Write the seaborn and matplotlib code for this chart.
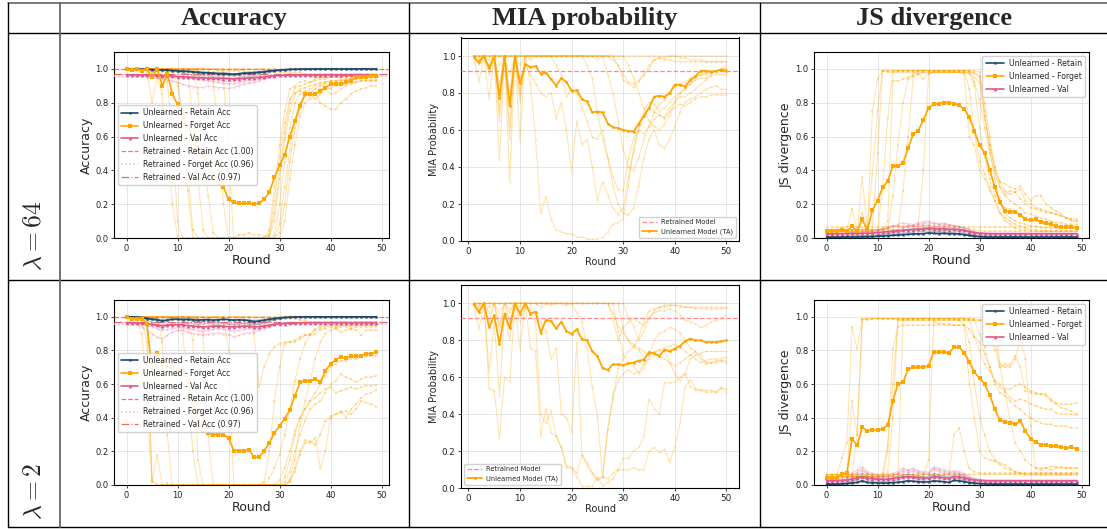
import sys
import numpy as np
import matplotlib
matplotlib.use("Agg")
import matplotlib.pyplot as plt
import seaborn as sns
from matplotlib.lines import Line2D

sns.set_theme(style="ticks")
plt.rcParams['font.family'] = ['DejaVu Sans']
plt.rcParams['mathtext.fontset'] = 'cm'

# ---------------------------------------------------------------- data
ROUNDS = list(range(0, 50))
MIA_ROUNDS = list(range(1, 51))
COL_TITLES = ["Accuracy", "MIA probability", "JS divergence"]
ROW_TITLES = [r"$\lambda = 64$", r"$\lambda = 2$"]
RETRAINED_ACC = {"Retain": 1.00, "Forget": 0.96, "Val": 0.97}
RETRAINED_MIA = 0.92

# ---- lambda = 64, accuracy
acc64_retain = [1.0,0.998,0.998,0.997,0.997,0.995,0.995,0.993,0.993,0.99,
                0.988,0.985,0.985,0.982,0.98,0.978,0.978,0.975,0.972,0.972,
                0.97,0.968,0.972,0.975,0.975,0.978,0.98,0.982,0.988,0.99,
                0.993,0.995,0.997,0.998,0.998,0.999,0.999,1.0,1.0,1.0,
                1.0,1.0,1.0,1.0,1.0,1.0,1.0,1.0,1.0,1.0]
acc64_forget = [1.0,0.995,1.0,0.99,1.0,0.95,1.0,0.90,0.97,0.85,
                0.79,0.72,0.66,0.60,0.54,0.48,0.43,0.37,0.32,0.30,
                0.23,0.21,0.205,0.205,0.205,0.20,0.205,0.23,0.27,0.36,
                0.43,0.49,0.60,0.69,0.78,0.85,0.85,0.85,0.87,0.89,
                0.91,0.91,0.91,0.92,0.93,0.95,0.95,0.955,0.96,0.96]
acc64_val = [0.965,0.965,0.965,0.964,0.964,0.963,0.962,0.96,0.96,0.958,
             0.955,0.953,0.952,0.95,0.948,0.947,0.946,0.945,0.944,0.943,
             0.942,0.94,0.943,0.945,0.946,0.948,0.95,0.953,0.956,0.96,
             0.962,0.963,0.964,0.965,0.965,0.965,0.965,0.965,0.965,0.965,
             0.965,0.965,0.965,0.965,0.965,0.965,0.965,0.965,0.965,0.965]
acc64_retain_runs = [
    [1.0,1.0,0.998,0.997,0.996,0.995,0.993,0.99,0.99,0.985,
     0.98,0.975,0.97,0.965,0.96,0.958,0.96,0.955,0.952,0.95,
     0.948,0.945,0.95,0.955,0.957,0.96,0.965,0.97,0.98,0.985,
     0.99,0.993,0.995,0.997,0.998,0.999,1.0,1.0,1.0,1.0,
     1.0,1.0,1.0,1.0,1.0,1.0,1.0,1.0,1.0,1.0],
    [1.0,0.999,0.999,0.998,0.997,0.997,0.996,0.995,0.994,0.993,
     0.99,0.99,0.988,0.985,0.983,0.98,0.975,0.97,0.968,0.965,
     0.962,0.96,0.963,0.967,0.97,0.972,0.975,0.98,0.985,0.99,
     0.995,0.997,0.998,0.999,1.0,1.0,1.0,1.0,1.0,1.0,
     1.0,1.0,1.0,1.0,1.0,1.0,1.0,1.0,1.0,1.0],
    [1.0,1.0,1.0,0.999,0.999,0.998,0.998,0.997,0.996,0.995,
     0.993,0.99,0.985,0.98,0.975,0.972,0.97,0.975,0.978,0.98,
     0.975,0.97,0.972,0.978,0.98,0.983,0.985,0.988,0.99,0.993,
     0.996,0.998,0.999,1.0,1.0,1.0,1.0,1.0,1.0,1.0,
     1.0,1.0,1.0,1.0,1.0,1.0,1.0,1.0,1.0,1.0],
]
acc64_val_runs = [
    [0.965,0.963,0.96,0.958,0.955,0.95,0.945,0.94,0.935,0.93,
     0.92,0.91,0.90,0.895,0.89,0.89,0.90,0.895,0.89,0.888,
     0.885,0.89,0.90,0.91,0.915,0.92,0.93,0.94,0.95,0.955,
     0.96,0.963,0.965,0.965,0.965,0.965,0.965,0.965,0.965,0.965,
     0.965,0.965,0.965,0.965,0.965,0.965,0.965,0.965,0.965,0.965],
    [0.965,0.965,0.964,0.963,0.962,0.96,0.958,0.957,0.955,0.953,
     0.95,0.948,0.945,0.94,0.938,0.935,0.93,0.925,0.92,0.915,
     0.91,0.912,0.918,0.925,0.93,0.935,0.94,0.948,0.955,0.96,
     0.962,0.964,0.965,0.965,0.965,0.965,0.965,0.965,0.965,0.965,
     0.965,0.965,0.965,0.965,0.965,0.965,0.965,0.965,0.965,0.965],
    [0.96,0.96,0.96,0.96,0.958,0.957,0.955,0.955,0.953,0.952,
     0.95,0.95,0.948,0.946,0.945,0.944,0.942,0.94,0.935,0.93,
     0.925,0.93,0.935,0.94,0.945,0.948,0.95,0.953,0.956,0.958,
     0.96,0.96,0.96,0.96,0.96,0.96,0.96,0.96,0.96,0.96,
     0.96,0.96,0.96,0.96,0.96,0.96,0.96,0.96,0.96,0.96],
]
acc64_forget_runs = [
    [1.0,1.0,0.99,1.0,0.98,0.80,0.95,0.85,0.50,0.20,
     0.01,0.0,0.0,0.0,0.0,0.0,0.0,0.0,0.0,0.0,
     0.0,0.0,0.0,0.0,0.0,0.0,0.0,0.0,0.05,0.30,
     0.55,0.75,0.88,0.90,0.92,0.93,0.92,0.94,0.95,0.95,
     0.95,0.96,0.95,0.96,0.96,0.96,0.96,0.96,0.96,0.96],
    [1.0,1.0,1.0,1.0,1.0,0.97,1.0,0.95,0.92,0.60,
     0.10,0.0,0.0,0.0,0.0,0.0,0.0,0.0,0.0,0.0,
     0.0,0.0,0.0,0.0,0.0,0.0,0.0,0.0,0.0,0.02,
     0.20,0.45,0.65,0.80,0.85,0.87,0.85,0.82,0.85,0.88,
     0.85,0.86,0.88,0.90,0.91,0.92,0.93,0.93,0.93,0.93],
    [1.0,1.0,1.0,1.0,1.0,1.0,1.0,0.99,1.0,1.0,
     1.0,0.60,0.28,0.0,0.0,0.0,0.0,0.0,0.0,0.0,
     0.0,0.0,0.0,0.0,0.0,0.0,0.0,0.0,0.0,0.0,
     0.0,0.10,0.35,0.55,0.72,0.80,0.82,0.85,0.80,0.78,
     0.76,0.76,0.80,0.82,0.85,0.87,0.88,0.89,0.90,0.90],
    [1.0,1.0,1.0,1.0,1.0,1.0,1.0,1.0,1.0,1.0,
     1.0,1.0,1.0,1.0,0.85,0.55,0.25,0.03,0.0,0.0,
     0.0,0.0,0.0,0.0,0.0,0.0,0.0,0.0,0.0,0.0,
     0.08,0.30,0.52,0.70,0.80,0.84,0.86,0.88,0.90,0.91,
     0.92,0.92,0.93,0.93,0.94,0.94,0.95,0.95,0.95,0.95],
    [1.0,1.0,1.0,1.0,1.0,1.0,1.0,1.0,1.0,1.0,
     1.0,1.0,1.0,1.0,1.0,1.0,1.0,0.92,0.60,0.20,
     0.0,0.0,0.0,0.0,0.0,0.0,0.0,0.0,0.0,0.0,
     0.03,0.20,0.45,0.65,0.77,0.85,0.88,0.90,0.91,0.92,
     0.93,0.93,0.94,0.94,0.94,0.95,0.95,0.95,0.95,0.95],
    [1.0,1.0,1.0,1.0,1.0,1.0,1.0,1.0,1.0,1.0,
     1.0,1.0,1.0,1.0,1.0,1.0,1.0,1.0,1.0,0.95,
     0.50,0.0,0.02,0.02,0.03,0.02,0.02,0.01,0.02,0.15,
     0.40,0.62,0.80,0.89,0.90,0.91,0.92,0.93,0.94,0.94,
     0.95,0.95,0.95,0.96,0.96,0.96,0.96,0.96,0.96,0.96],
    [1.0,1.0,1.0,1.0,1.0,1.0,1.0,1.0,1.0,1.0,
     1.0,1.0,1.0,0.70,0.35,0.05,0.0,0.0,0.0,0.0,
     0.0,0.0,0.0,0.0,0.0,0.0,0.0,0.0,0.01,0.10,
     0.35,0.58,0.75,0.85,0.88,0.89,0.90,0.91,0.92,0.92,
     0.93,0.93,0.93,0.94,0.94,0.94,0.94,0.94,0.94,0.94],
    [1.0,1.0,1.0,1.0,1.0,1.0,1.0,1.0,1.0,1.0,
     0.90,0.75,0.40,0.05,0.0,0.0,0.0,0.0,0.0,0.0,
     0.0,0.0,0.0,0.0,0.0,0.0,0.0,0.0,0.02,0.22,
     0.48,0.68,0.82,0.86,0.87,0.85,0.84,0.86,0.88,0.89,
     0.88,0.90,0.91,0.91,0.92,0.92,0.93,0.93,0.93,0.93],
    [1.0,1.0,1.0,1.0,1.0,1.0,1.0,1.0,1.0,1.0,
     1.0,1.0,1.0,1.0,1.0,1.0,1.0,1.0,1.0,1.0,
     1.0,1.0,1.0,1.0,1.0,1.0,1.0,1.0,1.0,1.0,
     0.99,0.99,0.98,0.98,0.98,0.97,0.97,0.97,0.97,0.97,
     0.97,0.97,0.97,0.97,0.97,0.97,0.97,0.97,0.97,0.97],
    [1.0,0.99,1.0,0.99,1.0,0.98,0.99,0.98,0.99,0.99,
     0.99,0.99,0.99,0.99,0.99,0.98,0.98,0.98,0.99,0.99,
     0.99,0.99,0.99,0.99,0.98,0.98,0.98,0.99,0.99,0.99,
     0.98,0.98,0.97,0.96,0.96,0.96,0.96,0.95,0.95,0.95,
     0.95,0.95,0.95,0.96,0.96,0.96,0.96,0.96,0.96,0.95],
]

# ---- lambda = 2, accuracy
acc2_retain = [1.0,1.0,0.998,0.995,0.99,0.985,0.982,0.975,0.98,0.985,
               0.985,0.983,0.985,0.982,0.98,0.982,0.983,0.98,0.982,0.985,
               0.983,0.98,0.982,0.98,0.978,0.972,0.975,0.98,0.985,0.99,
               0.993,0.996,0.998,0.999,1.0,1.0,1.0,1.0,1.0,1.0,
               1.0,1.0,1.0,1.0,1.0,1.0,1.0,1.0,1.0,1.0]
acc2_forget = [1.0,0.99,0.99,0.99,0.96,0.68,0.786,0.72,0.70,0.70,
               0.69,0.68,0.62,0.50,0.38,0.32,0.31,0.30,0.30,0.30,
               0.28,0.205,0.205,0.205,0.21,0.165,0.165,0.205,0.25,0.31,
               0.35,0.395,0.445,0.53,0.61,0.62,0.62,0.63,0.61,0.68,
               0.72,0.745,0.76,0.755,0.765,0.765,0.77,0.78,0.78,0.79]
acc2_val = [0.965,0.965,0.964,0.962,0.958,0.955,0.95,0.948,0.95,0.952,
            0.953,0.952,0.948,0.945,0.943,0.94,0.942,0.944,0.945,0.944,
            0.942,0.94,0.943,0.945,0.944,0.94,0.942,0.946,0.95,0.955,
            0.958,0.96,0.962,0.963,0.964,0.965,0.965,0.965,0.965,0.965,
            0.965,0.965,0.965,0.965,0.965,0.965,0.965,0.965,0.965,0.965]
acc2_retain_runs = [
    [1.0,1.0,0.995,0.99,0.98,0.97,0.95,0.93,0.95,0.96,
     0.965,0.96,0.965,0.96,0.955,0.958,0.96,0.955,0.958,0.96,
     0.955,0.95,0.955,0.958,0.955,0.95,0.955,0.96,0.97,0.98,
     0.985,0.99,0.995,0.998,1.0,1.0,1.0,1.0,1.0,1.0,
     1.0,1.0,1.0,1.0,1.0,1.0,1.0,1.0,1.0,1.0],
    [1.0,1.0,1.0,0.998,0.995,0.99,0.985,0.98,0.982,0.985,
     0.985,0.985,0.98,0.975,0.97,0.972,0.975,0.97,0.968,0.965,
     0.96,0.955,0.96,0.962,0.96,0.955,0.96,0.968,0.975,0.985,
     0.99,0.995,0.998,1.0,1.0,1.0,1.0,1.0,1.0,1.0,
     1.0,1.0,1.0,1.0,1.0,1.0,1.0,1.0,1.0,1.0],
    [1.0,1.0,0.998,0.996,0.993,0.99,0.988,0.985,0.988,0.99,
     0.99,0.99,0.988,0.988,0.985,0.985,0.988,0.985,0.985,0.988,
     0.985,0.983,0.985,0.985,0.983,0.98,0.982,0.986,0.99,0.993,
     0.996,0.998,1.0,1.0,1.0,1.0,1.0,1.0,1.0,1.0,
     1.0,1.0,1.0,1.0,1.0,1.0,1.0,1.0,1.0,1.0],
]
acc2_val_runs = [
    [0.965,0.963,0.955,0.94,0.92,0.90,0.88,0.87,0.89,0.91,
     0.92,0.92,0.91,0.90,0.895,0.89,0.895,0.90,0.905,0.90,
     0.895,0.88,0.89,0.90,0.905,0.91,0.92,0.93,0.94,0.95,
     0.955,0.96,0.963,0.965,0.965,0.965,0.965,0.965,0.965,0.965,
     0.965,0.965,0.965,0.965,0.965,0.965,0.965,0.965,0.965,0.965],
    [0.965,0.965,0.962,0.958,0.95,0.94,0.93,0.92,0.925,0.93,
     0.935,0.935,0.93,0.925,0.92,0.915,0.92,0.925,0.93,0.925,
     0.92,0.915,0.92,0.925,0.93,0.925,0.93,0.94,0.95,0.955,
     0.96,0.962,0.964,0.965,0.965,0.965,0.965,0.965,0.965,0.965,
     0.965,0.965,0.965,0.965,0.965,0.965,0.965,0.965,0.965,0.965],
    [0.965,0.965,0.965,0.963,0.96,0.955,0.95,0.945,0.948,0.95,
     0.952,0.95,0.948,0.945,0.942,0.94,0.942,0.945,0.946,0.944,
     0.94,0.938,0.94,0.943,0.944,0.94,0.943,0.948,0.952,0.956,
     0.96,0.962,0.964,0.965,0.965,0.965,0.965,0.965,0.965,0.965,
     0.965,0.965,0.965,0.965,0.965,0.965,0.965,0.965,0.965,0.965],
]
acc2_forget_runs = [
    [1.0,1.0,0.98,0.90,0.50,0.02,0.18,0.0,0.01,0.0,
     0.0,0.0,0.0,0.0,0.0,0.0,0.0,0.0,0.0,0.0,
     0.0,0.0,0.0,0.0,0.0,0.0,0.0,0.0,0.04,0.10,
     0.18,0.30,0.45,0.62,0.75,0.84,0.89,0.93,0.94,0.95,
     0.95,0.94,0.95,0.95,0.94,0.95,0.95,0.95,0.95,0.95],
    [1.0,1.0,1.0,1.0,1.0,0.02,0.0,0.0,0.0,0.0,
     0.0,0.0,0.0,0.0,0.0,0.0,0.0,0.0,0.0,0.0,
     0.0,0.0,0.0,0.0,0.0,0.0,0.0,0.0,0.0,0.0,
     0.0,0.0,0.03,0.15,0.35,0.50,0.62,0.75,0.85,0.90,
     0.92,0.93,0.91,0.92,0.93,0.92,0.89,0.92,0.92,0.92],
    [1.0,1.0,1.0,1.0,1.0,1.0,0.99,1.0,1.0,1.0,
     1.0,1.0,0.98,0.86,0.15,0.0,0.0,0.0,0.0,0.0,
     0.0,0.0,0.0,0.0,0.0,0.0,0.0,0.0,0.0,0.0,
     0.0,0.05,0.15,0.30,0.40,0.45,0.50,0.55,0.60,0.65,
     0.70,0.72,0.74,0.74,0.75,0.75,0.76,0.76,0.77,0.77],
    [1.0,1.0,1.0,1.0,1.0,1.0,1.0,1.0,1.0,1.0,
     1.0,1.0,1.0,0.99,0.98,0.90,0.30,0.0,0.0,0.0,
     0.0,0.0,0.0,0.0,0.0,0.0,0.0,0.0,0.0,0.0,
     0.0,0.02,0.08,0.20,0.30,0.38,0.45,0.48,0.50,0.55,
     0.60,0.62,0.66,0.64,0.63,0.61,0.63,0.64,0.64,0.65],
    [1.0,1.0,1.0,1.0,1.0,1.0,1.0,1.0,1.0,1.0,
     1.0,1.0,1.0,1.0,0.99,1.0,0.98,1.0,0.99,1.0,
     0.80,0.0,0.0,0.0,0.0,0.0,0.0,0.0,0.0,0.0,
     0.0,0.0,0.02,0.10,0.20,0.27,0.25,0.28,0.10,0.20,
     0.41,0.42,0.43,0.44,0.42,0.45,0.50,0.49,0.48,0.465],
    [1.0,1.0,1.0,1.0,1.0,1.0,1.0,1.0,1.0,1.0,
     1.0,1.0,1.0,1.0,1.0,1.0,1.0,1.0,1.0,1.0,
     1.0,1.0,1.0,1.0,1.0,0.90,0.58,0.70,0.78,0.82,
     0.84,0.85,0.85,0.86,0.88,0.89,0.90,0.92,0.93,0.94,
     0.95,0.94,0.95,0.95,0.95,0.95,0.95,0.95,0.95,0.95],
    [1.0,1.0,1.0,1.0,1.0,1.0,1.0,0.85,0.30,0.0,
     0.0,0.0,0.0,0.0,0.0,0.0,0.0,0.0,0.0,0.0,
     0.0,0.0,0.0,0.0,0.0,0.0,0.0,0.0,0.0,0.0,
     0.03,0.10,0.20,0.32,0.40,0.45,0.50,0.52,0.55,0.57,
     0.58,0.55,0.56,0.57,0.58,0.57,0.58,0.59,0.59,0.595],
    [1.0,1.0,1.0,1.0,1.0,1.0,1.0,1.0,1.0,1.0,
     1.0,0.90,0.60,0.20,0.0,0.0,0.0,0.0,0.0,0.0,
     0.0,0.0,0.0,0.0,0.0,0.0,0.0,0.0,0.0,0.0,
     0.0,0.0,0.02,0.08,0.18,0.25,0.26,0.24,0.30,0.38,
     0.40,0.42,0.44,0.40,0.45,0.48,0.52,0.54,0.55,0.565],
    [1.0,1.0,1.0,1.0,1.0,1.0,1.0,1.0,1.0,1.0,
     1.0,1.0,1.0,1.0,1.0,1.0,1.0,1.0,1.0,1.0,
     1.0,1.0,1.0,1.0,1.0,1.0,1.0,1.0,1.0,1.0,
     1.0,1.0,0.99,0.99,0.98,0.98,0.97,0.97,0.97,0.97,
     0.97,0.97,0.97,0.97,0.97,0.97,0.97,0.97,0.97,0.97],
    [1.0,1.0,1.0,0.97,0.85,0.03,0.0,0.0,0.0,0.0,
     0.0,0.0,0.0,0.0,0.0,0.0,0.0,0.0,0.0,0.0,
     0.0,0.0,0.0,0.0,0.0,0.0,0.0,0.02,0.20,0.50,
     0.70,0.84,0.85,0.85,0.87,0.89,0.89,0.90,0.92,0.93,
     0.94,0.93,0.94,0.94,0.93,0.94,0.94,0.94,0.94,0.94],
]

# ---- lambda = 64, MIA probability
mia64_mean = [0.995,0.965,1.0,0.935,1.0,0.775,1.0,0.73,1.0,0.855,
              0.955,0.94,0.945,0.905,0.91,0.875,0.84,0.88,0.86,0.81,
              0.815,0.765,0.755,0.695,0.70,0.695,0.635,0.615,0.61,0.60,
              0.595,0.59,0.635,0.675,0.72,0.78,0.785,0.78,0.80,0.845,
              0.845,0.835,0.87,0.89,0.92,0.92,0.915,0.92,0.925,0.92]
mia64_runs = [
    [1.0,0.99,1.0,1.0,1.0,1.0,1.0,1.0,1.0,1.0,
     1.0,1.0,1.0,1.0,1.0,1.0,1.0,1.0,1.0,1.0,
     1.0,1.0,1.0,1.0,1.0,1.0,1.0,1.0,1.0,1.0,
     1.0,1.0,1.0,1.0,1.0,1.0,1.0,1.0,1.0,1.0,
     1.0,1.0,1.0,1.0,1.0,1.0,1.0,1.0,1.0,1.0],
    [1.0,0.86,1.0,0.77,1.0,0.44,1.0,0.32,1.0,0.54,
     1.0,1.0,1.0,1.0,1.0,1.0,1.0,1.0,1.0,1.0,
     1.0,1.0,1.0,1.0,1.0,1.0,1.0,0.98,0.95,0.90,
     0.86,0.85,0.87,0.90,0.95,0.98,0.99,0.99,1.0,1.0,
     0.99,0.99,0.98,0.98,0.98,0.97,0.97,0.97,0.97,0.97],
    [1.0,0.98,1.0,0.95,1.0,0.65,1.0,0.55,1.0,0.75,
     1.0,0.85,0.55,0.15,0.24,0.12,0.06,0.05,0.04,0.04,
     0.02,0.02,0.01,0.01,0.01,0.02,0.05,0.09,0.10,0.12,
     0.30,0.50,0.62,0.70,0.75,0.74,0.70,0.72,0.75,0.78,
     0.80,0.82,0.85,0.87,0.88,0.88,0.89,0.90,0.90,0.90],
    [1.0,0.97,1.0,0.92,1.0,0.85,1.0,0.80,1.0,0.80,
     0.95,0.90,0.85,0.80,0.78,0.80,0.66,0.75,0.60,0.37,
     0.65,0.52,0.55,0.40,0.22,0.32,0.25,0.18,0.14,0.18,
     0.35,0.48,0.60,0.68,0.72,0.70,0.68,0.67,0.72,0.75,
     0.78,0.78,0.80,0.82,0.85,0.87,0.90,0.92,0.93,0.95],
    [1.0,1.0,1.0,0.98,1.0,0.95,1.0,0.90,1.0,0.95,
     1.0,1.0,1.0,1.0,1.0,1.0,1.0,1.0,1.0,1.0,
     1.0,1.0,0.95,0.88,0.70,0.55,0.45,0.30,0.20,0.15,
     0.14,0.18,0.30,0.45,0.55,0.60,0.52,0.50,0.55,0.62,
     0.70,0.75,0.77,0.78,0.80,0.82,0.83,0.84,0.82,0.82],
    [1.0,1.0,1.0,1.0,1.0,1.0,1.0,1.0,1.0,1.0,
     1.0,1.0,1.0,1.0,1.0,1.0,1.0,1.0,1.0,1.0,
     1.0,1.0,1.0,1.0,0.98,1.0,0.90,0.80,0.65,0.50,
     0.40,0.38,0.45,0.55,0.62,0.66,0.68,0.66,0.70,0.72,
     0.74,0.73,0.75,0.77,0.78,0.78,0.79,0.79,0.79,0.79],
    [1.0,1.0,1.0,1.0,1.0,1.0,1.0,1.0,1.0,1.0,
     1.0,1.0,1.0,1.0,1.0,1.0,1.0,1.0,1.0,1.0,
     1.0,1.0,1.0,1.0,1.0,1.0,1.0,1.0,0.95,0.87,
     0.85,0.83,0.86,0.90,0.93,0.98,0.99,0.98,0.98,0.97,
     0.97,0.97,0.97,0.97,0.97,0.97,0.97,0.97,0.97,0.97],
    [1.0,0.95,1.0,0.90,1.0,0.70,1.0,0.62,1.0,0.78,
     1.0,0.98,1.0,1.0,1.0,1.0,0.95,0.90,0.78,0.82,
     0.80,0.72,0.65,0.56,0.55,0.60,0.45,0.35,0.28,0.27,
     0.45,0.55,0.60,0.58,0.62,0.70,0.74,0.76,0.80,0.83,
     0.85,0.86,0.88,0.89,0.90,0.91,0.92,0.92,0.93,0.93],
    [1.0,1.0,1.0,1.0,1.0,1.0,1.0,1.0,1.0,1.0,
     1.0,1.0,1.0,1.0,1.0,1.0,1.0,1.0,1.0,1.0,
     1.0,1.0,1.0,1.0,1.0,1.0,1.0,1.0,1.0,1.0,
     0.95,0.88,0.80,0.72,0.65,0.62,0.60,0.63,0.68,0.75,
     0.80,0.83,0.85,0.88,0.90,0.90,0.91,0.92,0.93,0.93],
]

# ---- lambda = 2, MIA probability
mia2_mean = [0.995,0.955,1.0,0.87,0.935,0.78,0.945,0.865,1.0,0.945,
             1.0,0.945,0.955,0.84,0.91,0.905,0.865,0.90,0.85,0.835,
             0.86,0.805,0.80,0.74,0.715,0.65,0.64,0.67,0.67,0.665,
             0.675,0.68,0.69,0.695,0.735,0.73,0.715,0.75,0.74,0.755,
             0.77,0.795,0.81,0.80,0.80,0.79,0.79,0.79,0.795,0.80]
mia2_runs = [
    [1.0,0.99,1.0,1.0,1.0,1.0,1.0,1.0,1.0,1.0,
     1.0,1.0,1.0,1.0,1.0,1.0,1.0,1.0,1.0,1.0,
     1.0,1.0,1.0,1.0,1.0,1.0,1.0,1.0,1.0,1.0,
     1.0,1.0,1.0,1.0,1.0,1.0,1.0,1.0,1.0,1.0,
     1.0,1.0,1.0,1.0,1.0,1.0,1.0,1.0,1.0,1.0],
    [1.0,0.86,1.0,0.54,0.525,0.27,0.60,0.575,1.0,0.75,
     1.0,0.76,0.74,0.28,0.43,0.30,0.28,0.22,0.12,0.11,
     0.06,0.01,0.01,0.01,0.06,0.01,0.03,0.05,0.10,0.16,
     0.16,0.20,0.22,0.28,0.48,0.43,0.40,0.57,0.57,0.575,
     0.60,0.62,0.55,0.53,0.53,0.52,0.52,0.52,0.545,0.515],
    [1.0,0.95,1.0,0.63,0.90,0.50,0.95,0.80,1.0,0.90,
     0.98,0.95,0.90,0.40,0.35,0.42,0.28,0.22,0.11,0.11,
     0.08,0.18,0.12,0.08,0.05,0.06,0.05,0.08,0.10,0.10,
     0.10,0.11,0.10,0.10,0.20,0.22,0.19,0.21,0.14,0.22,
     0.35,0.55,0.585,0.54,0.53,0.53,0.53,0.52,0.54,0.535],
    [1.0,0.98,1.0,0.95,1.0,0.85,1.0,0.90,1.0,0.98,
     1.0,0.97,0.95,0.90,0.85,0.70,0.76,0.40,0.38,0.30,
     0.79,0.18,0.14,0.08,0.04,0.06,0.32,0.50,0.58,0.62,
     0.64,0.62,0.63,0.67,0.70,0.72,0.72,0.70,0.68,0.66,
     0.68,0.70,0.72,0.74,0.72,0.68,0.68,0.68,0.69,0.675],
    [1.0,0.97,1.0,0.90,1.0,0.88,1.0,0.95,1.0,1.0,
     1.0,1.0,1.0,0.98,1.0,0.99,1.0,1.0,0.99,1.0,
     0.95,0.90,0.75,0.55,0.39,0.06,0.32,0.48,0.65,0.70,
     0.74,0.77,0.75,0.70,0.72,0.74,0.75,0.74,0.68,0.62,
     0.58,0.62,0.70,0.72,0.73,0.74,0.74,0.74,0.74,0.74],
    [1.0,1.0,1.0,0.98,1.0,0.95,1.0,0.97,1.0,1.0,
     1.0,1.0,1.0,1.0,1.0,1.0,1.0,1.0,1.0,1.0,
     1.0,1.0,1.0,1.0,1.0,1.0,1.0,0.95,0.88,0.84,
     0.80,0.78,0.76,0.74,0.72,0.73,0.75,0.76,0.77,0.78,
     0.76,0.74,0.72,0.70,0.68,0.69,0.70,0.70,0.70,0.71],
    [1.0,1.0,1.0,1.0,1.0,1.0,1.0,1.0,1.0,1.0,
     1.0,1.0,1.0,1.0,1.0,1.0,1.0,1.0,1.0,1.0,
     1.0,1.0,1.0,1.0,1.0,1.0,1.0,1.0,0.85,0.72,
     0.68,0.66,0.62,0.65,0.72,0.80,0.84,0.85,0.87,0.86,
     0.84,0.80,0.76,0.74,0.70,0.67,0.68,0.69,0.69,0.69],
    [1.0,1.0,1.0,1.0,1.0,1.0,1.0,1.0,1.0,1.0,
     1.0,1.0,1.0,1.0,1.0,1.0,1.0,1.0,1.0,1.0,
     1.0,1.0,1.0,1.0,1.0,1.0,1.0,0.92,0.80,0.87,
     0.90,0.92,0.90,0.88,0.92,0.95,0.96,0.96,0.97,0.96,
     0.94,0.91,0.90,0.89,0.87,0.88,0.90,0.91,0.92,0.935],
    [1.0,1.0,1.0,1.0,1.0,1.0,1.0,1.0,1.0,1.0,
     1.0,1.0,1.0,1.0,1.0,1.0,1.0,1.0,1.0,1.0,
     1.0,1.0,1.0,1.0,1.0,1.0,1.0,1.0,1.0,0.86,
     0.80,0.76,0.82,0.90,0.96,0.97,0.98,0.98,0.99,0.99,
     0.99,0.98,0.98,0.97,0.97,0.97,0.97,0.97,0.97,0.975],
    [1.0,1.0,1.0,1.0,1.0,1.0,1.0,1.0,1.0,1.0,
     1.0,1.0,1.0,1.0,1.0,1.0,1.0,1.0,1.0,1.0,
     1.0,1.0,1.0,1.0,1.0,1.0,1.0,1.0,1.0,1.0,
     0.92,0.88,0.80,0.85,0.92,0.96,0.98,0.99,0.99,0.99,
     0.98,0.98,0.98,0.98,0.98,0.98,0.98,0.98,0.98,0.98],
]

# ---- lambda = 64, JS divergence
js64_retain = [0.005,0.005,0.005,0.005,0.006,0.006,0.006,0.007,0.007,0.008,
               0.01,0.012,0.014,0.016,0.018,0.02,0.022,0.024,0.025,0.026,
               0.03,0.028,0.026,0.028,0.025,0.026,0.024,0.02,0.015,0.01,
               0.008,0.006,0.005,0.005,0.005,0.005,0.005,0.005,0.005,0.005,
               0.005,0.005,0.005,0.005,0.005,0.005,0.005,0.005,0.005,0.005]
js64_forget = [0.04,0.04,0.04,0.045,0.04,0.07,0.04,0.11,0.045,0.165,
               0.22,0.30,0.335,0.425,0.425,0.445,0.53,0.615,0.635,0.70,
               0.77,0.79,0.795,0.80,0.80,0.795,0.785,0.76,0.715,0.63,
               0.55,0.50,0.40,0.30,0.21,0.16,0.155,0.155,0.135,0.11,
               0.105,0.11,0.095,0.09,0.08,0.07,0.065,0.065,0.065,0.06]
js64_val = [0.025,0.025,0.025,0.026,0.026,0.027,0.027,0.028,0.028,0.03,
            0.032,0.035,0.038,0.04,0.043,0.045,0.048,0.05,0.052,0.053,
            0.057,0.055,0.052,0.055,0.05,0.052,0.05,0.045,0.038,0.032,
            0.028,0.026,0.025,0.025,0.025,0.025,0.025,0.025,0.025,0.025,
            0.025,0.025,0.025,0.025,0.025,0.025,0.025,0.025,0.025,0.025]
js64_retain_runs = [
    [0.01,0.01,0.01,0.01,0.012,0.012,0.013,0.014,0.015,0.016,
     0.02,0.025,0.03,0.035,0.04,0.045,0.05,0.055,0.055,0.06,
     0.065,0.06,0.055,0.06,0.055,0.05,0.048,0.04,0.03,0.02,
     0.015,0.012,0.01,0.01,0.01,0.01,0.01,0.01,0.01,0.01,
     0.01,0.01,0.01,0.01,0.01,0.01,0.01,0.01,0.01,0.01],
    [0.003,0.003,0.003,0.004,0.004,0.005,0.005,0.006,0.007,0.008,
     0.01,0.012,0.015,0.02,0.025,0.03,0.032,0.035,0.038,0.04,
     0.04,0.038,0.035,0.036,0.033,0.03,0.028,0.022,0.015,0.01,
     0.006,0.004,0.003,0.003,0.003,0.003,0.003,0.003,0.003,0.003,
     0.003,0.003,0.003,0.003,0.003,0.003,0.003,0.003,0.003,0.003],
    [0.008,0.008,0.008,0.008,0.009,0.01,0.01,0.011,0.012,0.014,
     0.016,0.02,0.025,0.03,0.035,0.045,0.05,0.045,0.05,0.048,
     0.05,0.045,0.04,0.045,0.04,0.042,0.038,0.03,0.022,0.015,
     0.01,0.008,0.008,0.008,0.008,0.008,0.008,0.008,0.008,0.008,
     0.008,0.008,0.008,0.008,0.008,0.008,0.008,0.008,0.008,0.008],
]
js64_val_runs = [
    [0.03,0.03,0.03,0.03,0.032,0.033,0.035,0.036,0.038,0.04,
     0.045,0.05,0.06,0.07,0.08,0.09,0.085,0.08,0.09,0.095,
     0.10,0.09,0.085,0.09,0.08,0.075,0.07,0.06,0.05,0.04,
     0.035,0.032,0.03,0.03,0.03,0.03,0.03,0.03,0.03,0.03,
     0.03,0.03,0.03,0.03,0.03,0.03,0.03,0.03,0.03,0.03],
    [0.02,0.02,0.02,0.02,0.021,0.022,0.023,0.024,0.025,0.027,
     0.03,0.035,0.04,0.045,0.05,0.06,0.065,0.07,0.068,0.072,
     0.075,0.07,0.065,0.07,0.065,0.06,0.055,0.045,0.035,0.028,
     0.024,0.022,0.02,0.02,0.02,0.02,0.02,0.02,0.02,0.02,
     0.02,0.02,0.02,0.02,0.02,0.02,0.02,0.02,0.02,0.02],
    [0.025,0.025,0.025,0.026,0.027,0.028,0.03,0.032,0.035,0.04,
     0.045,0.055,0.065,0.075,0.07,0.065,0.07,0.075,0.08,0.085,
     0.09,0.085,0.08,0.082,0.078,0.072,0.065,0.055,0.045,0.035,
     0.03,0.027,0.025,0.025,0.025,0.025,0.025,0.025,0.025,0.025,
     0.025,0.025,0.025,0.025,0.025,0.025,0.025,0.025,0.025,0.025],
]
js64_forget_runs = [
    [0.065,0.065,0.065,0.065,0.065,0.07,0.065,0.065,0.065,0.065,
     0.065,0.065,0.065,0.065,0.065,0.065,0.065,0.065,0.065,0.065,
     0.065,0.065,0.065,0.065,0.065,0.065,0.065,0.065,0.065,0.065,
     0.065,0.065,0.065,0.065,0.065,0.065,0.065,0.065,0.065,0.065,
     0.065,0.065,0.065,0.065,0.065,0.065,0.065,0.065,0.065,0.065],
    [0.05,0.05,0.05,0.06,0.05,0.17,0.04,0.36,0.05,0.75,
     0.94,0.99,0.99,0.99,0.99,0.99,0.99,0.99,0.99,0.99,
     0.99,0.99,0.99,0.99,0.99,0.99,0.99,0.99,0.99,0.97,
     0.96,0.72,0.55,0.40,0.33,0.32,0.30,0.29,0.31,0.26,
     0.22,0.25,0.25,0.20,0.18,0.16,0.14,0.12,0.11,0.115],
    [0.04,0.04,0.04,0.04,0.04,0.04,0.03,0.15,0.06,0.38,
     0.75,0.99,0.98,0.98,0.99,0.99,0.99,0.99,0.99,0.99,
     0.99,0.99,0.99,0.99,0.99,0.99,0.99,0.99,0.99,0.90,
     0.65,0.48,0.35,0.25,0.20,0.18,0.17,0.15,0.14,0.12,
     0.10,0.10,0.09,0.08,0.08,0.07,0.07,0.06,0.06,0.06],
    [0.04,0.04,0.04,0.04,0.04,0.04,0.04,0.04,0.04,0.04,
     0.04,0.30,0.71,0.98,0.98,0.98,0.98,0.98,0.98,0.98,
     0.98,0.98,0.98,0.98,0.98,0.98,0.98,0.97,0.60,0.55,
     0.40,0.35,0.28,0.22,0.15,0.12,0.10,0.08,0.07,0.06,
     0.05,0.05,0.04,0.04,0.04,0.04,0.04,0.04,0.04,0.04],
    [0.05,0.05,0.05,0.05,0.05,0.05,0.05,0.05,0.05,0.05,
     0.05,0.05,0.10,0.93,0.93,0.94,0.95,0.96,0.97,0.94,
     0.97,0.98,0.98,0.98,0.98,0.98,0.98,0.98,0.98,0.95,
     0.92,0.70,0.55,0.42,0.33,0.28,0.26,0.27,0.23,0.20,
     0.18,0.17,0.16,0.15,0.15,0.14,0.13,0.12,0.11,0.10],
    [0.04,0.04,0.04,0.04,0.04,0.04,0.04,0.04,0.04,0.04,
     0.04,0.05,0.06,0.05,0.04,0.28,0.60,0.95,0.97,0.98,
     0.98,0.98,0.98,0.98,0.98,0.98,0.98,0.98,0.98,0.98,
     0.95,0.80,0.60,0.42,0.30,0.25,0.22,0.20,0.18,0.15,
     0.14,0.13,0.12,0.11,0.10,0.09,0.09,0.08,0.08,0.08],
    [0.05,0.05,0.05,0.05,0.05,0.05,0.05,0.05,0.05,0.05,
     0.05,0.05,0.05,0.05,0.05,0.05,0.05,0.05,0.08,0.40,
     0.97,0.98,0.98,0.98,0.98,0.98,0.98,0.98,0.97,0.92,
     0.82,0.65,0.50,0.38,0.30,0.26,0.28,0.27,0.29,0.22,
     0.20,0.18,0.17,0.16,0.15,0.14,0.13,0.12,0.10,0.10],
    [0.04,0.04,0.04,0.04,0.04,0.04,0.04,0.04,0.045,0.05,
     0.05,0.055,0.06,0.065,0.07,0.07,0.075,0.07,0.07,0.075,
     0.075,0.07,0.07,0.072,0.07,0.068,0.065,0.06,0.055,0.05,
     0.045,0.04,0.04,0.04,0.04,0.04,0.04,0.04,0.04,0.04,
     0.04,0.04,0.04,0.04,0.04,0.04,0.04,0.04,0.04,0.04],
    [0.05,0.05,0.05,0.05,0.05,0.05,0.05,0.05,0.05,0.05,
     0.50,0.99,0.99,0.99,0.99,0.99,0.99,0.99,0.99,0.99,
     0.99,0.99,0.99,0.99,0.99,0.99,0.99,0.99,0.88,0.62,
     0.45,0.38,0.30,0.22,0.15,0.10,0.08,0.06,0.05,0.05,
     0.04,0.04,0.04,0.04,0.04,0.04,0.04,0.04,0.04,0.04],
    [0.05,0.05,0.05,0.05,0.05,0.05,0.05,0.05,0.05,0.05,
     0.05,0.05,0.05,0.25,0.55,0.80,0.94,0.97,0.99,0.99,
     0.99,0.99,0.99,0.99,0.99,0.99,0.99,0.99,0.99,0.99,
     0.98,0.75,0.52,0.35,0.22,0.15,0.12,0.10,0.09,0.08,
     0.07,0.07,0.06,0.06,0.06,0.06,0.06,0.06,0.06,0.06],
]

# ---- lambda = 2, JS divergence
js2_retain = [0.005,0.005,0.005,0.006,0.008,0.012,0.015,0.025,0.015,0.014,
              0.012,0.012,0.012,0.014,0.016,0.02,0.025,0.022,0.02,0.018,
              0.018,0.025,0.022,0.02,0.015,0.028,0.025,0.02,0.014,0.01,
              0.008,0.006,0.005,0.005,0.005,0.005,0.005,0.005,0.005,0.005,
              0.005,0.005,0.005,0.005,0.005,0.005,0.005,0.005,0.005,0.005]
js2_forget = [0.04,0.04,0.04,0.065,0.07,0.275,0.235,0.345,0.32,0.33,
              0.325,0.335,0.355,0.50,0.60,0.61,0.69,0.70,0.70,0.70,
              0.71,0.79,0.79,0.79,0.785,0.82,0.82,0.785,0.73,0.67,
              0.635,0.60,0.535,0.45,0.385,0.375,0.37,0.36,0.38,0.32,
              0.275,0.255,0.24,0.24,0.23,0.23,0.225,0.22,0.225,0.215]
js2_val = [0.025,0.025,0.025,0.027,0.03,0.035,0.04,0.05,0.04,0.038,
           0.035,0.034,0.035,0.038,0.042,0.048,0.05,0.046,0.044,0.042,
           0.04,0.05,0.047,0.044,0.04,0.05,0.048,0.042,0.035,0.03,
           0.028,0.026,0.025,0.025,0.025,0.025,0.025,0.025,0.025,0.025,
           0.025,0.025,0.025,0.025,0.025,0.025,0.025,0.025,0.025,0.025]
js2_retain_runs = [
    [0.01,0.01,0.01,0.015,0.02,0.04,0.05,0.07,0.05,0.045,
     0.04,0.035,0.035,0.04,0.05,0.06,0.065,0.06,0.055,0.05,
     0.05,0.07,0.06,0.055,0.05,0.06,0.06,0.05,0.035,0.025,
     0.02,0.015,0.012,0.01,0.01,0.01,0.01,0.01,0.01,0.01,
     0.01,0.01,0.01,0.01,0.01,0.01,0.01,0.01,0.01,0.01],
    [0.003,0.003,0.004,0.006,0.01,0.02,0.03,0.045,0.03,0.025,
     0.02,0.02,0.022,0.025,0.03,0.04,0.045,0.04,0.035,0.03,
     0.03,0.045,0.04,0.035,0.03,0.04,0.038,0.03,0.02,0.012,
     0.008,0.005,0.004,0.003,0.003,0.003,0.003,0.003,0.003,0.003,
     0.003,0.003,0.003,0.003,0.003,0.003,0.003,0.003,0.003,0.003],
    [0.008,0.008,0.008,0.01,0.014,0.025,0.035,0.055,0.04,0.035,
     0.03,0.03,0.03,0.035,0.04,0.05,0.055,0.05,0.045,0.04,
     0.04,0.06,0.05,0.045,0.04,0.05,0.048,0.04,0.028,0.018,
     0.012,0.01,0.008,0.008,0.008,0.008,0.008,0.008,0.008,0.008,
     0.008,0.008,0.008,0.008,0.008,0.008,0.008,0.008,0.008,0.008],
]
js2_val_runs = [
    [0.03,0.03,0.03,0.04,0.05,0.07,0.09,0.11,0.08,0.07,
     0.06,0.06,0.06,0.07,0.08,0.10,0.09,0.10,0.085,0.08,
     0.075,0.11,0.10,0.09,0.08,0.085,0.08,0.07,0.05,0.04,
     0.035,0.03,0.03,0.03,0.03,0.03,0.03,0.03,0.03,0.03,
     0.03,0.03,0.03,0.03,0.03,0.03,0.03,0.03,0.03,0.03],
    [0.02,0.02,0.02,0.028,0.035,0.05,0.065,0.085,0.065,0.055,
     0.05,0.048,0.05,0.055,0.065,0.08,0.075,0.08,0.07,0.065,
     0.06,0.09,0.08,0.07,0.065,0.07,0.065,0.055,0.04,0.03,
     0.025,0.022,0.02,0.02,0.02,0.02,0.02,0.02,0.02,0.02,
     0.02,0.02,0.02,0.02,0.02,0.02,0.02,0.02,0.02,0.02],
    [0.025,0.025,0.026,0.032,0.04,0.06,0.075,0.095,0.07,0.06,
     0.055,0.052,0.055,0.06,0.07,0.09,0.085,0.09,0.078,0.072,
     0.068,0.1,0.09,0.08,0.072,0.078,0.072,0.06,0.045,0.035,
     0.03,0.027,0.025,0.025,0.025,0.025,0.025,0.025,0.025,0.025,
     0.025,0.025,0.025,0.025,0.025,0.025,0.025,0.025,0.025,0.025],
]
js2_forget_runs = [
    [0.06,0.06,0.06,0.16,0.25,0.94,0.81,0.99,0.98,0.99,
     0.99,0.99,0.99,0.99,0.99,0.99,0.99,0.99,0.99,0.99,
     0.99,0.99,0.99,0.99,0.99,0.99,0.99,0.99,0.99,0.99,
     0.98,0.98,0.98,0.96,0.72,0.70,0.72,0.77,0.70,0.56,
     0.55,0.54,0.54,0.53,0.50,0.49,0.48,0.48,0.48,0.49],
    [0.06,0.06,0.06,0.06,0.06,0.50,0.30,0.98,0.99,0.99,
     0.99,0.99,0.99,0.99,0.99,0.99,0.99,0.99,0.99,0.99,
     0.99,0.99,0.99,0.99,0.99,0.99,0.99,0.99,0.98,0.98,
     0.98,0.97,0.95,0.80,0.70,0.72,0.70,0.75,0.87,0.75,
     0.35,0.10,0.09,0.10,0.09,0.10,0.11,0.10,0.10,0.10],
    [0.05,0.05,0.05,0.05,0.05,0.05,0.05,0.05,0.05,0.05,
     0.05,0.05,0.20,0.81,0.94,0.95,0.95,0.95,0.95,0.95,
     0.95,0.95,0.95,0.95,0.95,0.95,0.95,0.95,0.93,0.88,
     0.85,0.78,0.70,0.62,0.60,0.57,0.57,0.59,0.60,0.58,
     0.56,0.55,0.54,0.54,0.51,0.48,0.46,0.45,0.44,0.42],
    [0.05,0.05,0.05,0.05,0.05,0.05,0.05,0.05,0.05,0.05,
     0.05,0.05,0.08,0.40,0.98,0.98,0.98,0.98,0.98,0.98,
     0.98,0.98,0.98,0.98,0.98,0.98,0.98,0.98,0.98,0.88,
     0.80,0.72,0.68,0.62,0.58,0.56,0.52,0.50,0.51,0.50,
     0.48,0.47,0.46,0.45,0.45,0.43,0.42,0.42,0.42,0.415],
    [0.05,0.05,0.05,0.05,0.05,0.05,0.05,0.05,0.05,0.05,
     0.05,0.05,0.05,0.05,0.05,0.98,0.99,0.99,0.99,0.99,
     0.99,0.99,0.99,0.99,0.99,0.99,0.99,0.99,0.99,0.98,
     0.90,0.82,0.70,0.60,0.55,0.53,0.50,0.47,0.45,0.42,
     0.40,0.38,0.37,0.36,0.36,0.35,0.35,0.35,0.34,0.34],
    [0.05,0.05,0.05,0.05,0.05,0.05,0.05,0.05,0.05,0.05,
     0.05,0.05,0.05,0.05,0.05,0.05,0.05,0.05,0.05,0.05,
     0.15,0.97,0.96,0.96,0.96,0.95,0.95,0.95,0.60,0.40,
     0.20,0.16,0.15,0.14,0.13,0.12,0.10,0.08,0.07,0.06,
     0.06,0.06,0.06,0.06,0.06,0.06,0.06,0.06,0.06,0.06],
    [0.06,0.06,0.06,0.06,0.06,0.06,0.06,0.06,0.06,0.06,
     0.06,0.06,0.06,0.06,0.06,0.06,0.06,0.06,0.06,0.06,
     0.06,0.06,0.06,0.06,0.06,0.30,0.34,0.20,0.10,0.08,
     0.07,0.07,0.07,0.07,0.07,0.07,0.07,0.07,0.07,0.07,
     0.07,0.07,0.07,0.07,0.07,0.07,0.07,0.07,0.07,0.07],
    [0.065,0.065,0.065,0.065,0.065,0.065,0.065,0.065,0.065,0.065,
     0.065,0.065,0.065,0.065,0.065,0.065,0.065,0.065,0.065,0.065,
     0.065,0.065,0.065,0.065,0.065,0.065,0.065,0.065,0.065,0.065,
     0.065,0.065,0.065,0.065,0.065,0.065,0.065,0.065,0.065,0.065,
     0.065,0.065,0.065,0.065,0.065,0.065,0.065,0.065,0.065,0.065],
    [0.05,0.05,0.05,0.05,0.05,0.05,0.05,0.05,0.05,0.05,
     0.05,0.07,0.24,0.60,0.98,0.98,0.98,0.98,0.98,0.98,
     0.98,0.98,0.98,0.98,0.98,0.98,0.98,0.98,0.98,0.98,
     0.98,0.98,0.97,0.88,0.70,0.55,0.38,0.25,0.20,0.15,
     0.12,0.10,0.10,0.10,0.11,0.11,0.10,0.10,0.10,0.10],
    [0.06,0.06,0.06,0.06,0.06,0.06,0.30,0.99,0.99,0.99,
     0.99,0.99,0.99,0.99,0.99,0.99,0.99,0.99,0.99,0.99,
     0.99,0.99,0.99,0.99,0.99,0.99,0.98,0.95,0.85,0.60,
     0.40,0.30,0.20,0.15,0.12,0.10,0.09,0.08,0.07,0.07,
     0.07,0.07,0.07,0.07,0.07,0.07,0.07,0.07,0.07,0.07],
]

# ---------------------------------------------------------------- style
C_RETAIN = "#1b4a6b"
C_FORGET = "#ffa500"
C_VAL = "#e0578a"
C_RT_RETAIN = "#ff6f6f"
C_RT_FORGET = "#ffaec0"
C_RT_VAL = "#ea6a6a"
C_RT_MIA = "#ff8a8a"

W, H = 1107, 529
fig = plt.figure(figsize=(W / 100, H / 100), dpi=100)


def px_axes(left, top, right, bottom):
    return fig.add_axes([left / W, 1 - bottom / H, (right - left) / W, (bottom - top) / H])


def draw(ax, x, y, color, marker, lw, ms, alpha, z=2, name=""):
    n = min(len(x), len(y))
    if len(y) != len(x):
        print("length mismatch", name, len(y), file=sys.stderr)
    sns.lineplot(x=x[:n], y=y[:n], ax=ax, color=color, marker=marker,
                 linewidth=lw, markersize=ms, markeredgewidth=0, alpha=alpha,
                 zorder=z, legend=False, errorbar=None, sort=False)
    return ax.lines[-1]


def style_axes(ax, xlabel, ylabel, tick_fs, label_fs):
    ax.set_ylim(0, 1.1)
    ax.set_yticks([0.0, 0.2, 0.4, 0.6, 0.8, 1.0])
    ax.set_yticklabels(["0.0", "0.2", "0.4", "0.6", "0.8", "1.0"])
    ax.set_xticks([0, 10, 20, 30, 40, 50])
    ax.grid(True, color="#b0b0b0", alpha=0.35, linewidth=0.6)
    ax.set_axisbelow(True)
    for s in ax.spines.values():
        s.set_color("black")
        s.set_linewidth(0.8)
        s.set_visible(True)
    ax.tick_params(labelsize=tick_fs, length=2.5, width=0.6, pad=1.5, colors="#222222")
    ax.set_xlabel(xlabel, fontsize=label_fs, labelpad=1)
    ax.set_ylabel(ylabel, fontsize=label_fs, labelpad=2)


FAINT_A = 0.3
FAINT_LW = 0.8
FAINT_MS = 1.6


def acc_panel(ax, retain, forget, val, retain_runs, val_runs, forget_runs):
    for r in forget_runs:
        draw(ax, ROUNDS, r, C_FORGET, "s", FAINT_LW, FAINT_MS, FAINT_A, 1, "accF")
    for r in retain_runs:
        draw(ax, ROUNDS, r, C_RETAIN, "*", FAINT_LW, FAINT_MS, FAINT_A, 1, "accR")
    for r in val_runs:
        draw(ax, ROUNDS, r, C_VAL, "^", FAINT_LW, FAINT_MS, FAINT_A, 1, "accV")
    h1 = draw(ax, ROUNDS, retain, C_RETAIN, "*", 1.2, 3.0, 1.0, 4, "retain")
    h2 = draw(ax, ROUNDS, forget, C_FORGET, "s", 1.2, 2.6, 1.0, 5, "forget")
    h3 = draw(ax, ROUNDS, val, C_VAL, "^", 1.2, 2.6, 1.0, 4, "val")
    h4 = ax.axhline(RETRAINED_ACC["Retain"], color=C_RT_RETAIN, ls="--", lw=0.9, zorder=3)
    h5 = ax.axhline(RETRAINED_ACC["Forget"], color=C_RT_FORGET, ls=":", lw=1.1, zorder=3)
    h6 = ax.axhline(RETRAINED_ACC["Val"], color=C_RT_VAL, ls="-.", lw=0.9, zorder=3)
    labels = ["Unlearned - Retain Acc", "Unlearned - Forget Acc", "Unlearned - Val Acc",
              "Retrained - Retain Acc (%.2f)" % RETRAINED_ACC["Retain"],
              "Retrained - Forget Acc (%.2f)" % RETRAINED_ACC["Forget"],
              "Retrained - Val Acc (%.2f)" % RETRAINED_ACC["Val"]]
    ax.legend([h1, h2, h3, h4, h5, h6], labels, loc="center left", fontsize=5.5,
              frameon=True, edgecolor="#cccccc", framealpha=0.9, labelspacing=0.5,
              handlelength=2.3, handletextpad=0.6, borderpad=0.4,
              bbox_to_anchor=(0.0, 0.5))
    style_axes(ax, "Round", "Accuracy", 6, 9)


def mia_panel(ax, mean, runs, legend_loc):
    for r in runs:
        draw(ax, MIA_ROUNDS, r, C_FORGET, "o", FAINT_LW, 1.2, FAINT_A, 1, "miaF")
    h1 = ax.axhline(RETRAINED_MIA, color=C_RT_MIA, ls="--", lw=0.9, zorder=3)
    h2 = draw(ax, MIA_ROUNDS, mean, C_FORGET, "o", 1.3, 2.0, 1.0, 5, "mia")
    ax.legend([h1, h2], ["Retrained Model", "Unlearned Model (TA)"], loc=legend_loc,
              fontsize=4.8, frameon=True, edgecolor="#cccccc", framealpha=0.9,
              labelspacing=0.5, handlelength=2.3, handletextpad=0.6, borderpad=0.4)
    style_axes(ax, "Round", "MIA Probability", 6.3, 7)


def js_panel(ax, retain, forget, val, retain_runs, val_runs, forget_runs):
    for r in forget_runs:
        draw(ax, ROUNDS, r, C_FORGET, "s", FAINT_LW, FAINT_MS, FAINT_A, 1, "jsF")
    for r in val_runs:
        draw(ax, ROUNDS, r, C_VAL, "^", FAINT_LW, FAINT_MS, FAINT_A, 1, "jsV")
    for r in retain_runs:
        draw(ax, ROUNDS, r, C_RETAIN, "*", FAINT_LW, FAINT_MS, FAINT_A, 1, "jsR")
    h2 = draw(ax, ROUNDS, forget, C_FORGET, "s", 1.2, 2.6, 1.0, 5, "jsforget")
    h3 = draw(ax, ROUNDS, val, C_VAL, "^", 1.2, 2.6, 1.0, 4, "jsval")
    h1 = draw(ax, ROUNDS, retain, C_RETAIN, "*", 1.2, 3.0, 1.0, 4, "jsretain")
    ax.legend([h1, h2, h3], ["Unlearned - Retain", "Unlearned - Forget", "Unlearned - Val"],
              loc="upper right", fontsize=5.6, frameon=True, edgecolor="#cccccc",
              framealpha=0.9, labelspacing=0.5, handlelength=2.4, handletextpad=0.6,
              borderpad=0.4)
    style_axes(ax, "Round", "JS divergence", 6, 9)


# row 1 (lambda = 64)
ax = px_axes(114, 52, 389, 238)
acc_panel(ax, acc64_retain, acc64_forget, acc64_val, acc64_retain_runs, acc64_val_runs, acc64_forget_runs)
ax = px_axes(461, 37.5, 739, 241)
mia_panel(ax, mia64_mean, mia64_runs, "lower right")
ax = px_axes(814, 52, 1089, 238)
js_panel(ax, js64_retain, js64_forget, js64_val, js64_retain_runs, js64_val_runs, js64_forget_runs)

# row 2 (lambda = 2)
ax = px_axes(114, 300, 389, 485)
acc_panel(ax, acc2_retain, acc2_forget, acc2_val, acc2_retain_runs, acc2_val_runs, acc2_forget_runs)
ax = px_axes(461, 285, 739, 488)
mia_panel(ax, mia2_mean, mia2_runs, "lower left")
ax = px_axes(814, 300, 1089, 485)
js_panel(ax, js2_retain, js2_forget, js2_val, js2_retain_runs, js2_val_runs, js2_forget_runs)

# ---------------------------------------------------------------- table frame
def hline(y, x0, x1, color="black", lw=1.0):
    fig.add_artist(Line2D([x0 / W, x1 / W], [1 - y / H, 1 - y / H], transform=fig.transFigure,
                          color=color, lw=lw))


def vline(x, y0, y1, color="black", lw=1.0):
    fig.add_artist(Line2D([x / W, x / W], [1 - y0 / H, 1 - y1 / H], transform=fig.transFigure,
                          color=color, lw=lw))


hline(3, 8, W, color="#555555", lw=1.1)
hline(33, 8, W)
hline(280, 8, W)
hline(527, 8, W)
vline(8, 3, 527)
vline(60, 3, 527, color="#666666", lw=1.3)
vline(409, 3, 527)
vline(760, 3, 527)

for cx, title in zip([234.5, 584.5, 934.0], COL_TITLES):
    fig.text(cx / W, 1 - 18 / H, title, ha="center", va="center", fontsize=19,
             fontweight="bold", family="Liberation Serif")

for yb, title in zip([271, 520], ROW_TITLES):
    fig.text(34 / W, 1 - yb / H, title, rotation=90, ha="center", va="bottom", fontsize=18.5)

fig.savefig("out.png", dpi=100)
